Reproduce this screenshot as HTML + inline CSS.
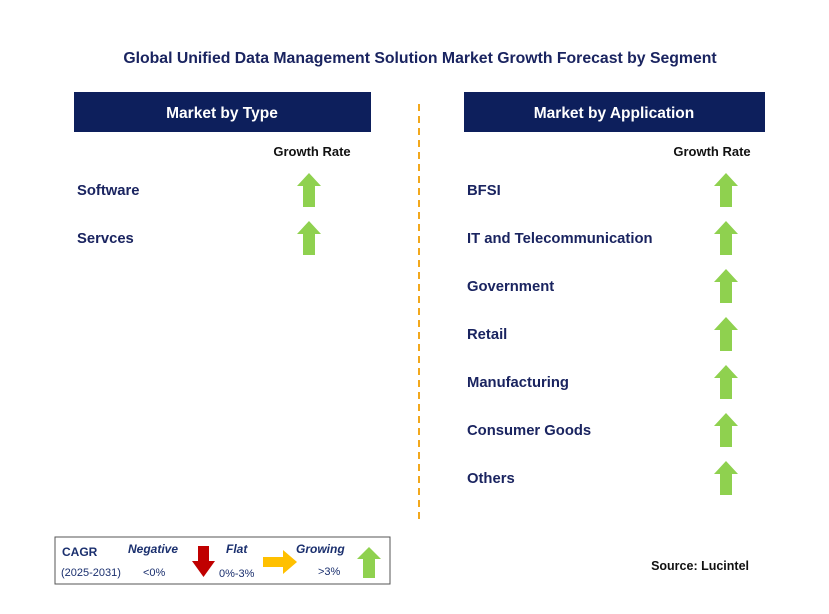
<!DOCTYPE html>
<html><head><meta charset="utf-8"><style>
body{margin:0;background:#fff;font-family:"Liberation Sans",Arial,sans-serif;}
svg text{font-family:"Liberation Sans",Arial,sans-serif;}
</style></head><body>
<svg width="829" height="609" viewBox="0 0 829 609" xmlns="http://www.w3.org/2000/svg">
<text x="420" y="63" text-anchor="middle" font-size="15.8" font-weight="bold" fill="#1a2460">Global Unified Data Management Solution Market Growth Forecast by Segment</text>
<rect x="74" y="92" width="297" height="40" fill="#0d1f5c"/>
<text x="222" y="118" text-anchor="middle" font-size="15.5" font-weight="bold" fill="#fff">Market by Type</text>
<rect x="464" y="92" width="301" height="40" fill="#0d1f5c"/>
<text x="614" y="118" text-anchor="middle" font-size="15.5" font-weight="bold" fill="#fff">Market by Application</text>
<line x1="419" y1="104" x2="419" y2="520" stroke="#f2a81d" stroke-width="2" stroke-dasharray="7,5"/>
<text x="312" y="156" text-anchor="middle" font-size="13" font-weight="bold" fill="#111">Growth Rate</text>
<text x="712" y="156" text-anchor="middle" font-size="13" font-weight="bold" fill="#111">Growth Rate</text>
<g id="left"></g><g id="right"></g>
<rect x="55" y="537" width="335" height="47" fill="#fff" stroke="#555" stroke-width="1"/>
<text x="62" y="556" font-size="12" font-weight="bold" fill="#1a2f6e">CAGR</text>
<text x="61" y="576" font-size="11" fill="#1a2f6e">(2025-2031)</text>
<text x="128" y="553" font-size="12" font-weight="bold" font-style="italic" fill="#1a2f6e">Negative</text>
<text x="143" y="576" font-size="11" fill="#1a2f6e">&lt;0%</text>
<path d="M198,546 h11 v15 h6 l-11.5,16 l-11.5,-16 h6 z" fill="#c00000"/>
<text x="226" y="553" font-size="12" font-weight="bold" font-style="italic" fill="#1a2f6e">Flat</text>
<text x="219" y="577" font-size="11" fill="#1a2f6e">0%-3%</text>
<path d="M263,557 h20 v-7 l14,12 l-14,12 v-7 h-20 z" fill="#ffc000"/>
<text x="296" y="553" font-size="12" font-weight="bold" font-style="italic" fill="#1a2f6e">Growing</text>
<text x="318" y="575" font-size="11" fill="#1a2f6e">&gt;3%</text>
<path d="M369,547 l12,12 h-6 v19 h-12 v-19 h-6 z" fill="#8fd14f"/>
<text x="749" y="570" text-anchor="end" font-size="12.5" font-weight="bold" fill="#111">Source: Lucintel</text>
</svg>
<script>
const typeSegments=["Software","Servces"];
const typeTrends=["up","up"];
const appSegments=["BFSI","IT and Telecommunication","Government","Retail","Manufacturing","Consumer Goods","Others"];
const appTrends=["up","up","up","up","up","up","up"];
const NS="http://www.w3.org/2000/svg";
function rowY(i){return 190+i*48;}
function arrow(cx,cy,trend){
  const p=document.createElementNS(NS,"path");
  let d;
  if(trend==="up") d=`M${cx},${cy-17} l12,13 h-6 v21 h-12 v-21 h-6 z`;
  else if(trend==="down") d=`M${cx},${cy+17} l12,-13 h-6 v-21 h-12 v21 h-6 z`;
  else d=`M${cx+17},${cy} l-13,12 v-6 h-21 v-12 h21 v-6 z`;
  p.setAttribute("d",d);
  p.setAttribute("fill",trend==="up"?"#8fd14f":trend==="down"?"#c00000":"#ffc000");
  return p;
}
function draw(gid,names,trends,lx,ax,prefix){
  const g=document.getElementById(gid);
  names.forEach((n,i)=>{
    const t=document.createElementNS(NS,"text");
    t.setAttribute("x",lx);t.setAttribute("y",rowY(i)+5);
    t.setAttribute("font-size","14.8");t.setAttribute("font-weight","bold");t.setAttribute("fill","#1a2460");
    t.textContent=n;
    
    
    g.appendChild(t);
    const a=arrow(ax,rowY(i),trends[i]);
    
    
    g.appendChild(a);
  });
}
draw("left",typeSegments,typeTrends,77,309,"type-segment");
draw("right",appSegments,appTrends,467,726,"application-segment");
</script>
</body></html>
